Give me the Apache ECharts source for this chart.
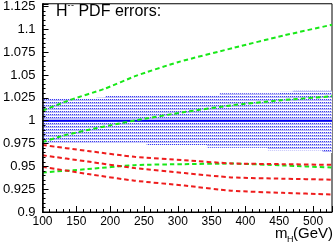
<!DOCTYPE html>
<html>
<head>
<meta charset="utf-8">
<script src="https://cdn.jsdelivr.net/npm/echarts@6/dist/echarts.min.js"></script>
<style>
html,body{margin:0;padding:0;background:#fff;}
#c{width:333px;height:245px;}
</style>
</head>
<body>
<div id="c"></div>
<script>
// ---- data ----
const xTickLabels = ['100','150','200','250','300','350','400','450','500'];
const yTickLabels = ['0.9','0.925','0.95','0.975','1','1.025','1.05','1.075','1.1','1.125'];

// central value
const centralX = [100, 528];
const centralY = [1, 1];

// PDF error band (blue hatched)
const bandUpperX = [100, 178, 180, 192, 194, 362, 362, 451, 451, 470, 470, 528];
const bandUpperY = [1.024, 1.024, 1.0255, 1.0255, 1.028, 1.028, 1.030, 1.030, 1.0317, 1.0317, 1.0328, 1.0328];
const bandLowerX = [100, 254, 254, 343, 343, 433, 433, 514, 514, 528];
const bandLowerY = [0.9758, 0.9758, 0.9733, 0.9733, 0.9704, 0.9704, 0.9675, 0.9675, 0.9645, 0.9645];

// green dashed curves
const green1X = [100, 142, 192, 238, 300, 384, 455, 528];
const green1Y = [1.011, 1.023, 1.035, 1.049, 1.064, 1.080, 1.093, 1.105];
const green2X = [100, 130, 165, 214, 240, 310, 380, 450, 528];
const green2Y = [0.9765, 0.9835, 0.9895, 0.997, 1.0007, 1.0095, 1.0168, 1.0222, 1.0267];
const lowX = [100, 167, 236, 310, 379, 455, 527];
const green3Y = [0.9433, 0.947, 0.9513, 0.9524, 0.953, 0.951, 0.9487];

// red dashed curves
const red1Y = [0.9733, 0.9668, 0.9604, 0.9567, 0.9532, 0.9524, 0.9516];
const red2Y = [0.9621, 0.9552, 0.9481, 0.9426, 0.9379, 0.9365, 0.9354];
const red3Y = [0.9495, 0.9416, 0.9343, 0.9289, 0.9233, 0.9210, 0.9192];

// ---- helpers ----
const pair = (xs, ys) => xs.map((x, i) => [x, ys[i]]);
const FONT = 'Liberation Sans, Arial, Helvetica, sans-serif';
const GREEN = '#18e818';
const RED = '#ee1c1c';

// hatch pattern
const pc = document.createElement('canvas');
pc.width = 2; pc.height = 3;
const pctx = pc.getContext('2d');
pctx.fillStyle = '#ffffff'; pctx.fillRect(0, 0, 2, 3);
pctx.fillStyle = '#3c3cf0'; pctx.fillRect(0, 0, 1, 1);
pctx.fillStyle = '#d8d8fb'; pctx.fillRect(1, 0, 1, 1);
pctx.fillStyle = '#b8b8f6'; pctx.fillRect(0, 1, 2, 1);

function dashed(xs, ys, color) {
  return {
    type: 'line', data: pair(xs, ys), symbol: 'none', smooth: 0.2,
    lineStyle: { color: color, width: 2, type: [4.5, 3] }, z: 5, silent: true
  };
}

const chart = echarts.init(document.getElementById('c'), null, { renderer: 'canvas' });
chart.setOption({
  animation: false,
  grid: { left: 42, top: 1, width: 290, height: 211, show: true, borderColor: '#000', borderWidth: 1, backgroundColor: 'transparent' },
  xAxis: {
    type: 'value', min: 100, max: 528, interval: 50, z: 10,
    axisLine: { show: true, lineStyle: { color: '#000', width: 1 } },
    axisTick: { show: true, inside: true, length: 6, lineStyle: { color: '#000' } },
    minorTick: { show: true, splitNumber: 5, length: 3, lineStyle: { color: '#000' } },
    splitLine: { show: false },
    axisLabel: {
      showMaxLabel: false, margin: 4, fontSize: 12, color: '#000', fontFamily: FONT,
      formatter: v => xTickLabels[Math.round((v - 100) / 50)] || ''
    }
  },
  yAxis: {
    type: 'value', min: 0.9, max: 1.128, interval: 0.025, z: 10,
    axisLine: { show: true, lineStyle: { color: '#000', width: 1.5 } },
    axisTick: { show: true, inside: true, length: 6, lineStyle: { color: '#000' } },
    minorTick: { show: true, splitNumber: 5, length: 3, lineStyle: { color: '#000' } },
    splitLine: { show: false },
    axisLabel: {
      showMaxLabel: false, margin: 7, fontSize: 13, color: '#000', fontFamily: FONT,
      formatter: v => yTickLabels[Math.round((v - 0.9) / 0.025)] || ''
    }
  },
  graphic: [
    { type: 'text', left: 56, top: 4, style: { text: 'H', font: '16px ' + FONT, fill: '#000' } },
    { type: 'text', left: 67.5, top: 1, style: { text: '-', font: '9px ' + FONT, fill: '#000' } },
    { type: 'text', left: 71, top: 1, style: { text: '-', font: '9px ' + FONT, fill: '#000' } },
    { type: 'text', left: 74, top: 4, style: { text: ' PDF errors:', font: '16px ' + FONT, fill: '#000' } },
    { type: 'text', left: 275, top: 226, style: { text: 'm', font: '15px ' + FONT, fill: '#000' } },
    { type: 'text', left: 287, top: 235, style: { text: 'H', font: '9px ' + FONT, fill: '#000' } },
    { type: 'text', left: 293, top: 226, style: { text: '(GeV)', font: '15px ' + FONT, fill: '#000' } }
  ],
  series: [
    {
      type: 'custom', coordinateSystem: 'cartesian2d', data: [[0]], z: 1, silent: true, clip: true,
      renderItem: function (params, api) {
        const pts = [];
        for (let i = 0; i < bandUpperX.length; i++) pts.push(api.coord([bandUpperX[i], bandUpperY[i]]));
        for (let i = bandLowerX.length - 1; i >= 0; i--) pts.push(api.coord([bandLowerX[i], bandLowerY[i]]));
        return { type: 'polygon', shape: { points: pts }, style: { fill: { image: pc, repeat: 'repeat' }, stroke: null } };
      }
    },
    {
      type: 'line', data: pair(centralX, centralY), symbol: 'none',
      lineStyle: { color: '#0000ee', width: 2 }, z: 4, silent: true
    },
    dashed(green1X, green1Y, GREEN),
    dashed(green2X, green2Y, GREEN),
    dashed(lowX, green3Y, GREEN),
    dashed(lowX, red1Y, RED),
    dashed(lowX, red2Y, RED),
    dashed(lowX, red3Y, RED)
  ]
});
</script>
</body>
</html>
